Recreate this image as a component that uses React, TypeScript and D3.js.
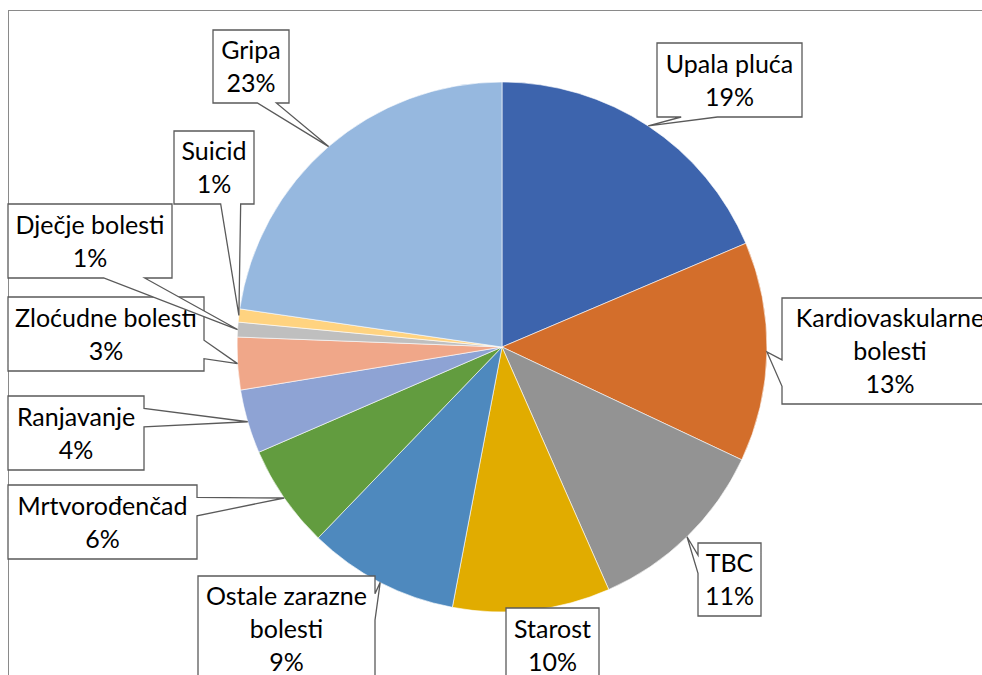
import * as d3 from "d3";

const CATEGORIES = [
  "Upala pluća",
  "Kardiovaskularne bolesti",
  "TBC",
  "Starost",
  "Ostale zarazne bolesti",
  "Mrtvorođenčad",
  "Ranjavanje",
  "Zloćudne bolesti",
  "Dječje bolesti",
  "Suicid",
  "Gripa",
];

// share of deaths, percent
const SHARES = [18.6, 13.4, 11.4, 9.6, 9.2, 6.3, 3.9, 3.2, 0.9, 0.8, 22.7];

// how each category name wraps inside its label box
const NAME_LINES = [
  ["Upala pluća"],
  ["Kardiovaskularne", "bolesti"],
  ["TBC"],
  ["Starost"],
  ["Ostale zarazne", "bolesti"],
  ["Mrtvorođenčad"],
  ["Ranjavanje"],
  ["Zloćudne bolesti"],
  ["Dječje bolesti"],
  ["Suicid"],
  ["Gripa"],
];

const COLORS = [
  "#3d64ad", "#d36e2b", "#939393", "#e1ac00", "#4e89be", "#629c3f",
  "#8ea3d4", "#f0a789", "#bfbfbf", "#ffd380", "#96b8df",
];

// callout boxes placed by hand, [left, top, right, bottom]
const BOXES = [
  [657, 43, 802, 117],
  [782, 298, 998, 404],
  [698, 543, 761, 616],
  [506, 608, 599, 682],
  [198, 576, 375, 682],
  [8, 485, 197, 559],
  [8, 396, 144, 470],
  [8, 297, 204, 371],
  [8, 204, 172, 278],
  [174, 131, 254, 204],
  [213, 30, 289, 103],
];

const W = 982;
const H = 675;
const CX = 502;
const CY = 347;
const R = 265;
const FONT = 25;
const LINE_H = 33;

// Excel's wedgeRectCallout outline
function calloutPath(l: number, t: number, r: number, b: number, tx: number, ty: number) {
  if (tx >= l && tx <= r && ty >= t && ty <= b) {
    return `M${l},${t}H${r}V${b}H${l}Z`;
  }
  const w = r - l, h = b - t;
  const hc = l + w / 2, vc = t + h / 2;
  const dx = tx - hc, dy = ty - vc;
  const dz = Math.abs(dy) - Math.abs((dx * h) / w);
  const x1 = l + (w * (dx > 0 ? 7 : 2)) / 12;
  const x2 = l + (w * (dx > 0 ? 10 : 5)) / 12;
  const y1 = t + (h * (dy > 0 ? 7 : 2)) / 12;
  const y2 = t + (h * (dy > 0 ? 10 : 5)) / 12;
  const xl = dz > 0 ? l : dx > 0 ? l : tx;
  const yl = dz > 0 ? y1 : dx > 0 ? y1 : ty;
  const xt = dz > 0 ? (dy > 0 ? x1 : tx) : x1;
  const yt = dz > 0 ? (dy > 0 ? t : ty) : t;
  const xr = dz > 0 ? r : dx > 0 ? tx : r;
  const yr = dz > 0 ? y1 : dx > 0 ? ty : y1;
  const xb = dz > 0 ? (dy > 0 ? tx : x1) : x1;
  const yb = dz > 0 ? (dy > 0 ? ty : b) : b;
  const pts = [
    [l, t], [x1, t], [xt, yt], [x2, t], [r, t], [r, y1], [xr, yr], [r, y2],
    [r, b], [x2, b], [xb, yb], [x1, b], [l, b], [l, y2], [xl, yl], [l, y1],
  ];
  return "M" + pts.map((p) => `${p[0]},${p[1]}`).join("L") + "Z";
}

export default function App() {
  const data = CATEGORIES.map((name, i) => ({ name, value: SHARES[i], i }));
  const total = d3.sum(SHARES);
  const pie = d3.pie<(typeof data)[0]>().sort(null).value((d) => d.value);
  const arcs = pie(data);
  const arc = d3.arc<d3.PieArcDatum<(typeof data)[0]>>().innerRadius(0).outerRadius(R);

  return (
    <svg
      width={W}
      height={H}
      style={{ position: "absolute", left: 0, top: 0, fontFamily: "Lato, 'Noto Sans', sans-serif" }}
    >
      <rect x={8.5} y={10.5} width={W + 20} height={H + 20} fill="#fff" stroke="#8a8a8a" strokeWidth={1} />
      <g transform={`translate(${CX},${CY})`}>
        {arcs.map((a) => (
          <path key={a.data.name} d={arc(a) ?? ""} fill={COLORS[a.index]} stroke="#fff" strokeWidth={0.6} />
        ))}
      </g>
      {arcs.map((a) => {
        const mid = (a.startAngle + a.endAngle) / 2;
        const tx = CX + R * Math.sin(mid);
        const ty = CY - R * Math.cos(mid);
        const [l, t, r, b] = BOXES[a.index];
        const lines = [...NAME_LINES[a.index], `${Math.round((a.data.value / total) * 100)}%`];
        const cx = (l + r) / 2;
        const cy = (t + b) / 2;
        return (
          <g key={"lbl" + a.data.name}>
            <path d={calloutPath(l, t, r, b, tx, ty)} fill="#fff" stroke="#5a5a5a" strokeWidth={1.3} />
            {lines.map((s, k) => (
              <text
                key={k}
                x={cx}
                y={cy + (k - (lines.length - 1) / 2) * LINE_H + FONT * 0.36}
                textAnchor="middle"
                fontSize={FONT}
                fill="#000"
              >
                {s}
              </text>
            ))}
          </g>
        );
      })}
    </svg>
  );
}
